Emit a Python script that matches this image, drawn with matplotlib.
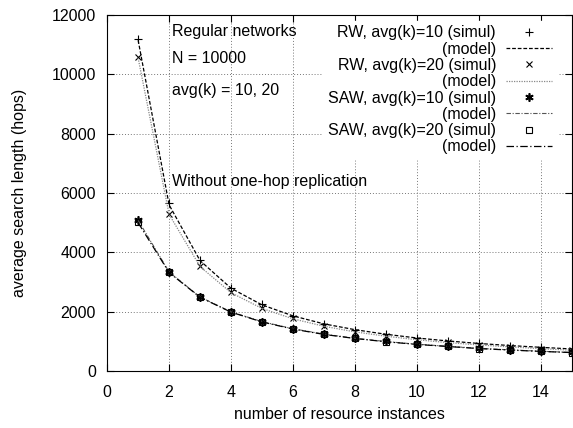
import numpy as np
import matplotlib
matplotlib.use("Agg")
import matplotlib.pyplot as plt

x = [1, 2, 3, 4, 5, 6, 7, 8, 9, 10, 11, 12, 13, 14, 15]
rw10 = [11200, 5650, 3750, 2800, 2250, 1870, 1600, 1400, 1250, 1120, 1020, 940, 860, 800, 750]
rw20 = [10600, 5300, 3550, 2650, 2130, 1780, 1520, 1330, 1180, 1060, 970, 890, 820, 760, 710]
saw10 = [5100, 3350, 2500, 2000, 1670, 1430, 1250, 1110, 1000, 910, 840, 770, 720, 670, 630]
saw20 = [5020, 3330, 2490, 1990, 1660, 1420, 1240, 1100, 990, 900, 830, 760, 710, 665, 625]
rw10_model = [11150, 5600, 3720, 2790, 2230, 1860, 1590, 1395, 1240, 1115, 1015, 930, 860, 800, 745]
rw20_model = [10550, 5280, 3520, 2640, 2110, 1760, 1510, 1320, 1175, 1055, 960, 880, 815, 755, 705]
saw10_model = [5080, 3340, 2495, 1995, 1665, 1425, 1245, 1105, 995, 905, 835, 765, 715, 668, 628]
saw20_model = [5000, 3320, 2485, 1985, 1655, 1415, 1235, 1098, 988, 898, 828, 758, 708, 663, 623]

FS = 11.5
plt.rcParams["font.family"] = ["Liberation Sans", "DejaVu Sans"]
fig = plt.figure(figsize=(5.73, 4.28), dpi=100)
ax = fig.add_axes([0.187, 0.133, 0.811, 0.832])

ax.plot(x, rw10, ls="none", marker="+", ms=6, mew=0.8, color="black", label="RW, avg(k)=10 (simul)")
ax.plot(x, rw10_model, ls=(0, (3, 1.5)), lw=0.9, color="black", label="(model)")
ax.plot(x, rw20, ls="none", marker="x", ms=5, mew=0.8, color="black", label="RW, avg(k)=20 (simul)")
ax.plot(x, rw20_model, ls=(0, (1, 1)), lw=0.9, color="#888888", label="(model)")
ax.plot(x, saw10, ls="none", marker=(6, 2, 0), ms=6, mew=1.2, color="black", label="SAW, avg(k)=10 (simul)")
ax.plot(x, saw10_model, ls=(0, (4, 1.5, 1, 1.5)), lw=0.8, color="#555555", label="(model)")
ax.plot(x, saw20, ls="none", marker="s", ms=5, mew=0.8, mfc="none", color="black", label="SAW, avg(k)=20 (simul)")
ax.plot(x, saw20_model, ls=(0, (6, 2, 1, 2)), lw=0.9, color="black", label="(model)")

ax.set_xlim(0, 15)
ax.set_ylim(0, 12000)
ax.set_xticks(np.arange(0, 15, 2))
ax.set_yticks(np.arange(0, 12001, 2000))
ax.grid(True, ls=(0, (1, 2)), color="#777777", lw=0.7)
ax.tick_params(direction="in", top=True, right=True, length=5, labelsize=FS)
ax.tick_params(axis="x", pad=10)
ax.tick_params(axis="y", pad=8)
ax.set_xlabel("number of resource instances", fontsize=FS, labelpad=5)
ax.set_ylabel("average search length (hops)", fontsize=FS, labelpad=18)

ax.text(2.1, 11450, "Regular networks", fontsize=FS, va="center")
ax.text(2.1, 10550, "N = 10000", fontsize=FS, va="center")
ax.text(2.1, 9470, "avg(k) = 10, 20", fontsize=FS, va="center")
ax.text(2.1, 6380, "Without one-hop replication", fontsize=FS, va="center")

leg = ax.legend(loc="upper right", bbox_to_anchor=(0.9675, 0.984), markerfirst=False,
                frameon=True, fontsize=FS, handlelength=2.9, labelspacing=0.08,
                borderaxespad=0, handletextpad=0.6, borderpad=0.3)
leg.get_frame().set_edgecolor("white")
leg.get_frame().set_facecolor("white")
leg.get_frame().set_alpha(1)
for col in leg._legend_handle_box.get_children():
    col.align = "right"

fig.savefig("out.png", dpi=100)
